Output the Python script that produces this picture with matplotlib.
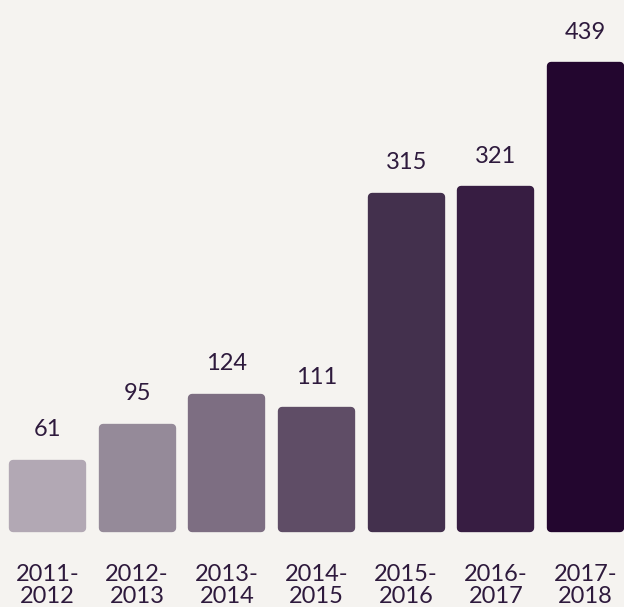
import matplotlib
matplotlib.use("Agg")
import matplotlib.pyplot as plt

plt.rcParams['font.family'] = ['Lato', 'DejaVu Sans']

# data
periods = ['2011-\n2012', '2012-\n2013', '2013-\n2014', '2014-\n2015',
           '2015-\n2016', '2016-\n2017', '2017-\n2018']
counts = [61, 95, 124, 111, 315, 321, 439]
bar_colors = ['#b2a8b4', '#958a99', '#7d6e82', '#5f4d66',
              '#43304d', '#371d42', '#23062f']

bg = '#f5f3f0'
text_col = '#2e1a3d'

fig = plt.figure(figsize=(6.24, 6.07), dpi=100, facecolor=bg)
ax = fig.add_axes([0, 79 / 607, 1, 528 / 607])
ax.set_facecolor(bg)

x = range(len(counts))
# thick same-colour edge with round joins gives the soft rounded corners
bars = ax.bar(x, counts, width=0.77, color=bar_colors,
              edgecolor=bar_colors, linewidth=6, clip_on=False)
for b in bars:
    b.set_joinstyle('round')

for xi, v in zip(x, counts):
    ax.annotate(str(v), (xi, v), xytext=(0, 17), textcoords='offset points',
                ha='center', va='bottom', fontsize=17, color=text_col)

ax.set_xlim(-0.53, 6.43)
ax.set_ylim(0, 502)
ax.set_xticks(list(x))
ax.set_xticklabels(periods, fontsize=17, color=text_col, linespacing=1.05)
ax.tick_params(axis='x', length=0, pad=26)
ax.set_yticks([])
for s in ax.spines.values():
    s.set_visible(False)

fig.savefig('out.png', dpi=100, facecolor=bg)
